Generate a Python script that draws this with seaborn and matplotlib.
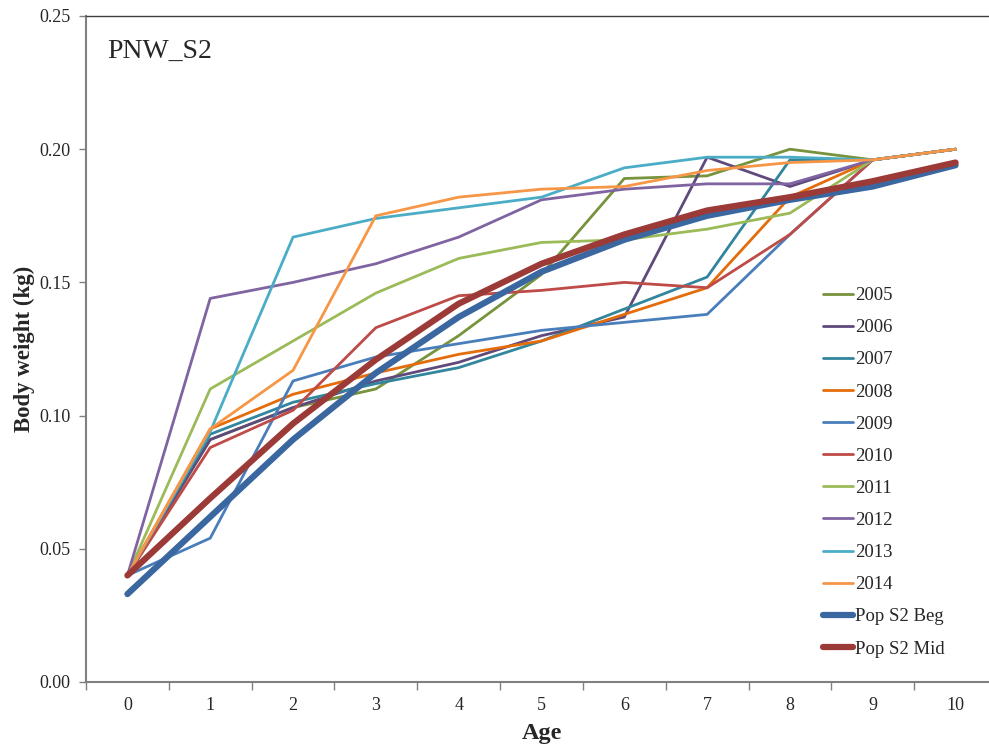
import matplotlib
matplotlib.use("Agg")
import matplotlib.pyplot as plt
import seaborn as sns
import numpy as np
import pandas as pd

ages = [0, 1, 2, 3, 4, 5, 6, 7, 8, 9, 10]

y2005 = [0.040, 0.091, 0.103, 0.110, 0.130, 0.153, 0.189, 0.190, 0.200, 0.196, 0.200]
y2006 = [0.040, 0.091, 0.103, 0.113, 0.120, 0.130, 0.137, 0.197, 0.186, 0.196, 0.200]
y2007 = [0.040, 0.093, 0.105, 0.112, 0.118, 0.128, 0.140, 0.152, 0.196, 0.196, 0.200]
y2008 = [0.040, 0.095, 0.108, 0.116, 0.123, 0.128, 0.138, 0.148, 0.182, 0.196, 0.200]
y2009 = [0.040, 0.054, 0.113, 0.122, 0.127, 0.132, 0.135, 0.138, 0.168, 0.196, 0.200]
y2010 = [0.040, 0.088, 0.102, 0.133, 0.145, 0.147, 0.150, 0.148, 0.168, 0.196, 0.200]
y2011 = [0.040, 0.110, 0.128, 0.146, 0.159, 0.165, 0.166, 0.170, 0.176, 0.196, 0.200]
y2012 = [0.040, 0.144, 0.150, 0.157, 0.167, 0.181, 0.185, 0.187, 0.187, 0.196, 0.200]
y2013 = [0.040, 0.094, 0.167, 0.174, 0.178, 0.182, 0.193, 0.197, 0.197, 0.196, 0.200]
y2014 = [0.040, 0.095, 0.117, 0.175, 0.182, 0.185, 0.186, 0.192, 0.195, 0.196, 0.200]
pop_beg = [0.033, 0.062, 0.091, 0.116, 0.137, 0.154, 0.166, 0.175, 0.181, 0.186, 0.194]
pop_mid = [0.040, 0.069, 0.097, 0.121, 0.142, 0.157, 0.168, 0.177, 0.182, 0.188, 0.195]

labels = ["2005", "2006", "2007", "2008", "2009", "2010", "2011", "2012", "2013", "2014",
          "Pop S2 Beg", "Pop S2 Mid"]
series = [y2005, y2006, y2007, y2008, y2009, y2010, y2011, y2012, y2013, y2014, pop_beg, pop_mid]
colors = ["#77933C", "#604A7B", "#31859C", "#E46C0A", "#4A7EBB", "#BE4B48",
          "#9BBB59", "#8064A2", "#4BACC6", "#F79646", "#3A67A0", "#9B3A37"]
widths = [2.0] * 10 + [4.5, 4.5]
yticks = [0.00, 0.05, 0.10, 0.15, 0.20, 0.25]

sns.set_style("ticks")
plt.rcParams["font.family"] = ["Liberation Serif", "DejaVu Serif"]

fig = plt.figure(figsize=(9.89, 7.51), dpi=100)
ax = fig.add_axes([86 / 989, 1 - 682 / 751, 911 / 989, 666 / 751])

for lab, ys, c, w in zip(labels, series, colors, widths):
    sns.lineplot(x=ages, y=ys, color=c, linewidth=w, label=lab, ax=ax,
                 solid_capstyle="round", solid_joinstyle="round")

ax.set_xlim(-0.5, 10.5)
ax.set_ylim(0, 0.25)
ax.set_yticks(yticks)
ax.set_yticklabels([f"{v:.2f}" for v in yticks], fontsize=13)
ax.set_xticks(ages)
ax.set_xticklabels([str(a) for a in ages], fontsize=13)
ax.tick_params(axis="x", which="major", length=0, pad=11)
ax.set_xticks(np.arange(-0.5, 11.0, 1.0), minor=True)
ax.tick_params(axis="x", which="minor", length=6, width=1, color="#808080", direction="out")
ax.tick_params(axis="y", length=5, width=1, color="#808080", direction="out", pad=6)

for s in ["left", "bottom"]:
    ax.spines[s].set_color("#808080")
    ax.spines[s].set_linewidth(1.5)
ax.spines["top"].set_visible(True)
ax.spines["top"].set_color("#404040")
ax.spines["top"].set_linewidth(1.0)
ax.spines["right"].set_visible(False)

ax.set_xlabel("Age", fontsize=17.5, fontweight="bold", labelpad=6)
ax.set_ylabel("Body weight (kg)", fontsize=16.5, fontweight="bold", labelpad=3)

ax.text(0.023, 0.965, "PNW_S2", transform=ax.transAxes, fontsize=20, va="top", ha="left")

leg = ax.legend(loc="upper left", bbox_to_anchor=(823 / 989, 1 - 287 / 751),
                bbox_transform=fig.transFigure, frameon=False, fontsize=13.5,
                handlelength=1.6, handletextpad=0.1, labelspacing=0.8, borderpad=0,
                borderaxespad=0)

fig.savefig("out.png", dpi=100)
